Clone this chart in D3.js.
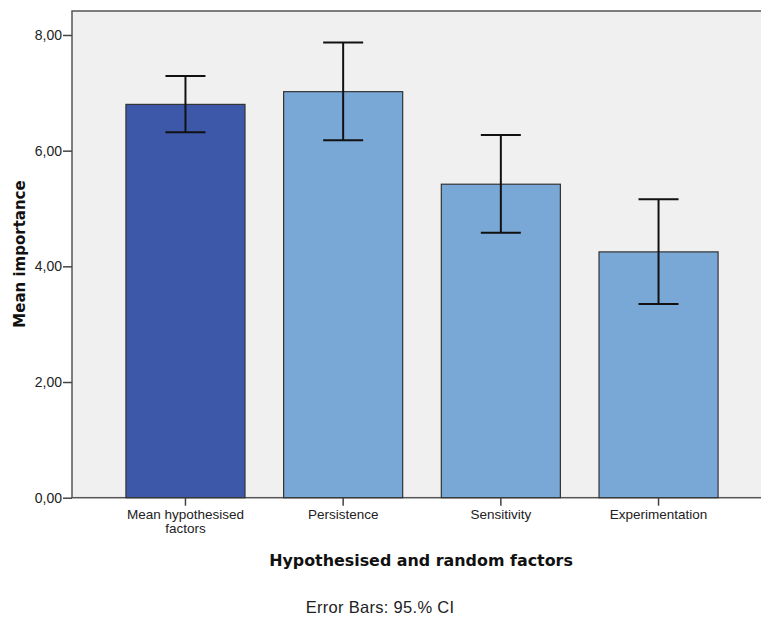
<!DOCTYPE html>
<html lang="en">
<head>
<meta charset="utf-8">
<title>Mean importance</title>
<script src="https://d3js.org/d3.v7.min.js"></script>
<style>
  body { margin: 0; background: #fff; }
  text { font-family: "Liberation Sans", Arial, sans-serif; fill: #111; }
  .axis line { stroke: #444; stroke-width: 1.5; }
  .axis text { font-size: 14px; fill: #222; }
  .axis--x text { font-size: 13.5px; }
  .bar { stroke: #333; stroke-width: 1.2; }
  .err { stroke: #111; stroke-width: 2; fill: none; }
  .title { font-family: "DejaVu Sans", sans-serif; font-weight: bold; fill: #111; }
</style>
</head>
<body>
<svg id="chart" width="761" height="619"></svg>
<script>
// values
var categories = ["Mean hypothesised factors", "Persistence", "Sensitivity", "Experimentation"];
var means = [6.80, 7.02, 5.42, 4.25];
var ciLow = [6.32, 6.18, 4.58, 3.35];
var ciHigh = [7.29, 7.87, 6.27, 5.16];
var yTicks = [0, 2, 4, 6, 8];
var barColors = ["#3d57a9", "#7aa8d6", "#7aa8d6", "#7aa8d6"];

var svg = d3.select("#chart");
var plotLeft = 72, plotTop = 11, plotRight = 772, plotBottom = 497.7;

var data = categories.map(function (c, i) {
  return { cat: c, mean: means[i], lo: ciLow[i], hi: ciHigh[i], color: barColors[i] };
});

var x = d3.scaleBand()
  .domain(categories)
  .range([plotLeft, plotRight])
  .paddingInner(0.245)
  .paddingOuter(0.342);

var y = d3.scaleLinear()
  .domain([0, 8])
  .range([plotBottom, plotBottom - 8 * 57.84]);

// plot background and frame
svg.append("rect")
  .attr("x", plotLeft).attr("y", plotTop)
  .attr("width", plotRight - plotLeft).attr("height", plotBottom - plotTop)
  .attr("fill", "#f0f0f0")
  .attr("stroke", "#555").attr("stroke-width", 1.5);

svg.selectAll(".bar")
  .data(data)
  .enter().append("rect")
  .attr("class", "bar")
  .attr("x", function (d) { return x(d.cat); })
  .attr("y", function (d) { return y(d.mean); })
  .attr("width", x.bandwidth())
  .attr("height", function (d) { return y(0) - y(d.mean); })
  .attr("fill", function (d) { return d.color; });

// error bars
var cap = 20;
var cx = function (d) { return x(d.cat) + x.bandwidth() / 2; };
var eb = svg.selectAll(".eb").data(data).enter().append("g").attr("class", "eb");
eb.append("line").attr("class", "err")
  .attr("x1", cx).attr("x2", cx)
  .attr("y1", function (d) { return y(d.lo); })
  .attr("y2", function (d) { return y(d.hi); });
eb.append("line").attr("class", "err")
  .attr("x1", function (d) { return cx(d) - cap; })
  .attr("x2", function (d) { return cx(d) + cap; })
  .attr("y1", function (d) { return y(d.hi); })
  .attr("y2", function (d) { return y(d.hi); });
eb.append("line").attr("class", "err")
  .attr("x1", function (d) { return cx(d) - cap; })
  .attr("x2", function (d) { return cx(d) + cap; })
  .attr("y1", function (d) { return y(d.lo); })
  .attr("y2", function (d) { return y(d.lo); });

// axes
var fmt = function (v) { return d3.format(".2f")(v).replace(".", ","); };
svg.append("g")
  .attr("class", "axis axis--y")
  .attr("transform", "translate(" + plotLeft + ",0)")
  .call(d3.axisLeft(y).tickValues(yTicks).tickFormat(fmt).tickSize(9).tickSizeOuter(0).tickPadding(1))
  .select(".domain").remove();

var xa = svg.append("g")
  .attr("class", "axis axis--x")
  .attr("transform", "translate(0," + plotBottom + ")")
  .call(d3.axisBottom(x).tickSize(8).tickSizeOuter(0).tickPadding(4));
xa.select(".domain").remove();

// wrap the long category label onto two lines
xa.selectAll(".tick text").each(function (d) {
  if (d === "Mean hypothesised factors") {
    var t = d3.select(this).text(null);
    t.append("tspan").attr("x", 0).attr("dy", "0.71em").text("Mean hypothesised");
    t.append("tspan").attr("x", 0).attr("dy", "1.02em").text("factors");
  }
});

// titles
svg.append("text")
  .attr("class", "title")
  .attr("x", 421).attr("y", 566)
  .attr("text-anchor", "middle")
  .style("font-size", "15.9px")
  .text("Hypothesised and random factors");

svg.append("text")
  .attr("class", "title")
  .attr("transform", "translate(25,254) rotate(-90)")
  .attr("text-anchor", "middle")
  .style("font-size", "15px")
  .text("Mean importance");

svg.append("text")
  .attr("x", 380).attr("y", 613)
  .attr("text-anchor", "middle")
  .style("font-size", "16.5px").style("letter-spacing", "0.3px").style("fill", "#222")
  .text("Error Bars: 95.% CI");
</script>
</body>
</html>
